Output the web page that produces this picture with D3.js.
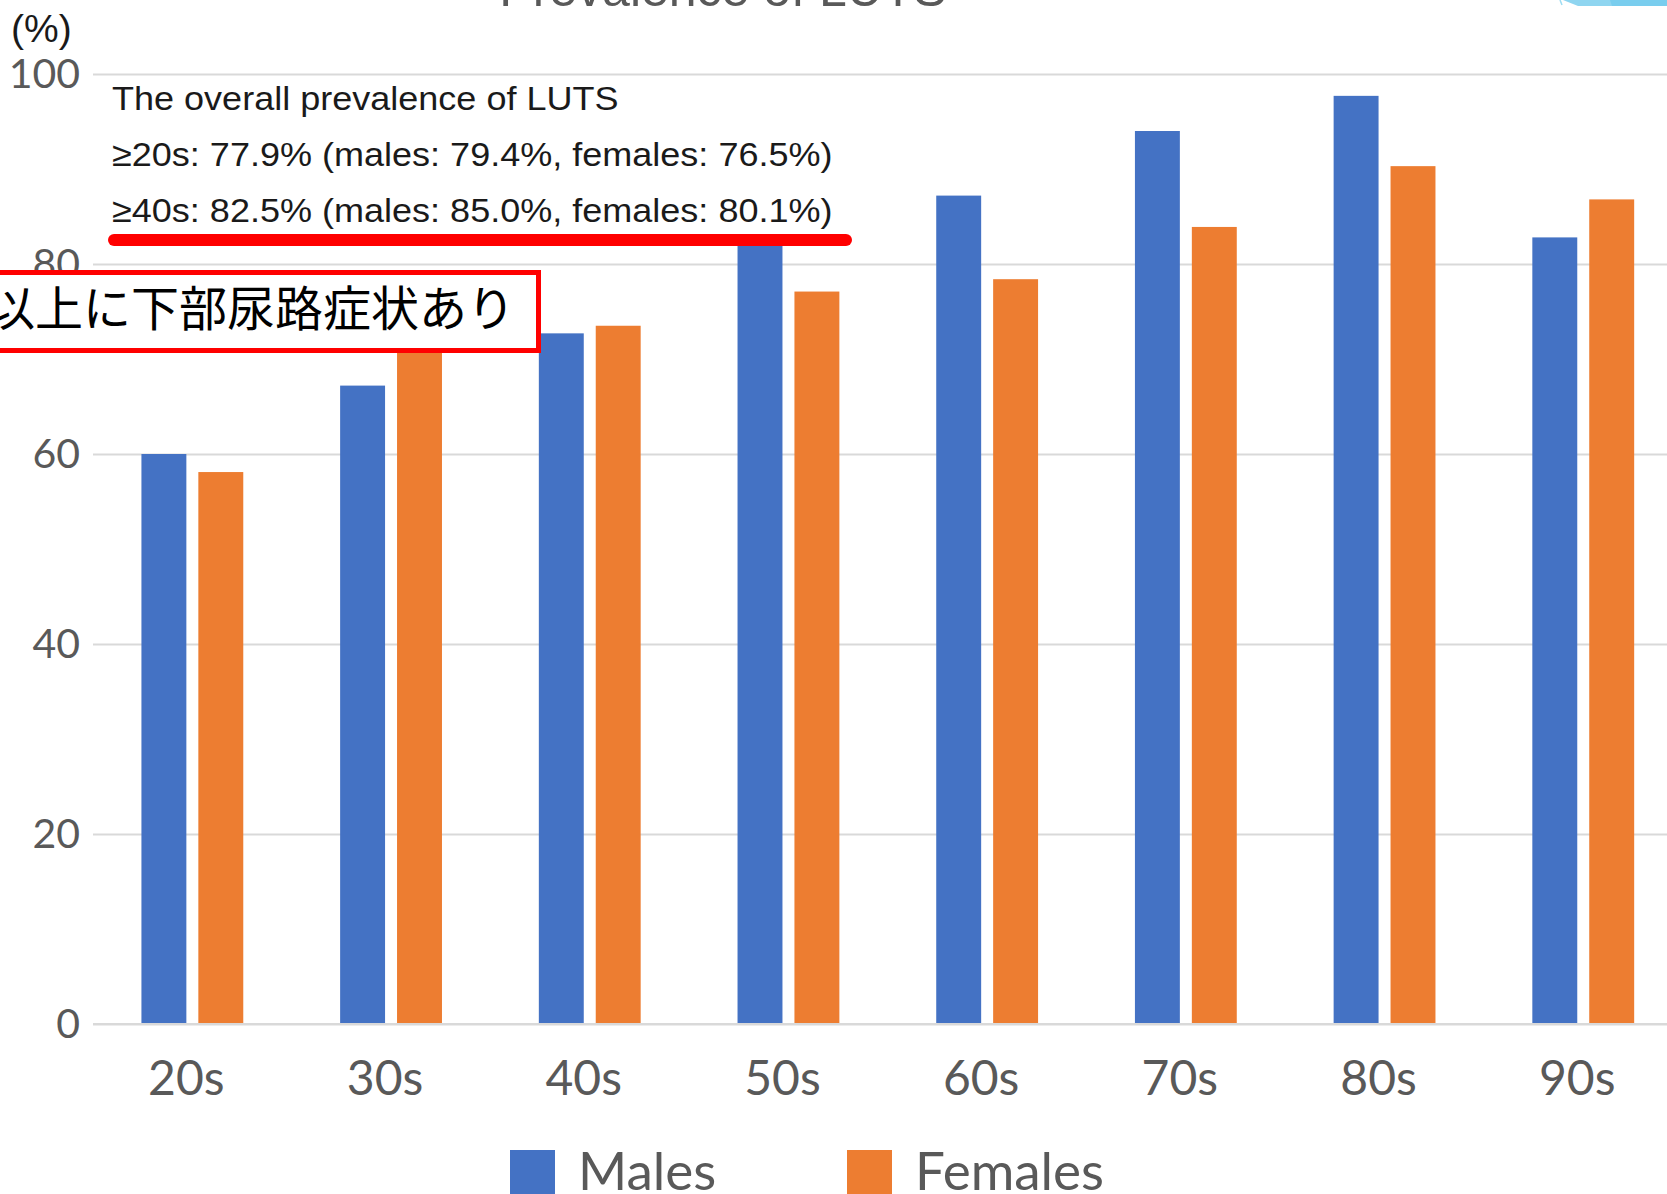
<!DOCTYPE html>
<html>
<head>
<meta charset="utf-8">
<script src="https://cdn.jsdelivr.net/npm/d3@7"></script>
<style>
  html, body { margin: 0; padding: 0; background: #fff; overflow: hidden; }
  svg { display: block; }
</style>
</head>
<body>
<svg id="chart" width="1667" height="1194"></svg>
<script>
// ---- data ----
const categories = ["20s", "30s", "40s", "50s", "60s", "70s", "80s", "90s"];
const seriesNames = ["Males", "Females"];
const males   = [60.0, 67.2, 72.7, 82.5, 87.2, 94.0, 97.7, 82.8];
const females = [58.1, 71.5, 73.5, 77.1, 78.4, 83.9, 90.3, 86.8];
const yTicks = [0, 20, 40, 60, 80, 100];
const yUnit = "(%)";
const titleText = "Prevalence of LUTS";
const noteLines = [
  "The overall prevalence of LUTS",
  "\u226520s: 77.9% (males: 79.4%, females: 76.5%)",
  "\u226540s: 82.5% (males: 85.0%, females: 80.1%)"
];
const boxText = "以上に下部尿路症状あり";

// ---- setup ----
const svg = d3.select("#chart");
const W = 1667, H = 1194;
const colors = { Males: "#4472C4", Females: "#ED7D31" };
const left = 93, step = 198.7;

const x0 = d3.scaleBand().domain(categories)
  .range([left, left + step * categories.length]).paddingInner(0).paddingOuter(0);
const x1 = d3.scaleBand().domain(seriesNames)
  .range([0, x0.bandwidth()]).paddingInner(0.2105).paddingOuter(0.851);
const y = d3.scaleLinear().domain([0, 100]).range([1024, 74]);

svg.append("rect").attr("width", W).attr("height", H).attr("fill", "#fff");

// faint cut-off title at very top
svg.append("text").attr("x", 723).attr("y", 6)
  .attr("text-anchor", "middle")
  .attr("font-family", "Liberation Sans, Arial, sans-serif")
  .attr("font-size", 50).attr("fill", "#595959")
  .text(titleText);

// decoration top-right
svg.append("polygon").attr("points", "1563,0 1667,0 1667,6 1578,6").attr("fill", "#8fd5f0");
svg.append("polygon").attr("points", "1610,0 1667,0 1667,6 1612,6").attr("fill", "#79cdee");
svg.append("line").attr("x1", 1560).attr("y1", 0).attr("x2", 1562).attr("y2", 5)
  .attr("stroke", "#9edcf2").attr("stroke-width", 1.5);

// gridlines
const yAxisG = svg.append("g").attr("transform", `translate(${left},0)`)
  .call(d3.axisLeft(y).tickValues(yTicks).tickSize(-(W - left)).tickFormat(d3.format("d")).tickPadding(13));
yAxisG.select(".domain").remove();
yAxisG.selectAll(".tick line").attr("stroke", "#d9d9d9").attr("stroke-width", 2);
yAxisG.selectAll(".tick text")
  .attr("font-family", "Lato, 'Open Sans', sans-serif")
  .attr("font-size", 41).attr("fill", "#595959").attr("dy", "0.33em");

// bars
const groups = svg.append("g").selectAll("g").data(categories).join("g")
  .attr("transform", d => `translate(${x0(d)},0)`);
groups.selectAll("rect")
  .data((d, i) => seriesNames.map(s => ({ s, v: s === "Males" ? males[i] : females[i] })))
  .join("rect")
  .attr("x", d => x1(d.s))
  .attr("width", x1.bandwidth())
  .attr("y", d => y(d.v))
  .attr("height", d => y(0) - y(d.v))
  .attr("fill", d => colors[d.s]);

// x axis
const xAxisG = svg.append("g").attr("transform", `translate(0,${y(0)})`)
  .call(d3.axisBottom(x0).tickSize(0).tickPadding(0));
xAxisG.select(".domain").attr("d", `M${left},0H${W}`).attr("stroke", "#d9d9d9").attr("stroke-width", 2);
xAxisG.selectAll(".tick text")
  .attr("font-family", "Lato, 'Open Sans', sans-serif")
  .attr("font-size", 48).attr("fill", "#595959")
  .attr("x", -6).attr("y", 71).attr("dy", 0);

// unit label
svg.append("text").attr("x", 11).attr("y", 42)
  .attr("font-family", "Liberation Sans, Arial, sans-serif")
  .attr("font-size", 39).attr("fill", "#1a1a1a").text(yUnit);

// annotation block
svg.append("rect").attr("x", 100).attr("y", 80).attr("width", 762).attr("height", 160).attr("fill", "#fff");
svg.append("g").attr("transform", "translate(112,0) scale(1.06,1)")
  .selectAll("text").data(noteLines).join("text")
  .attr("x", 0).attr("y", (d, i) => [110, 166, 222][i])
  .attr("font-family", "Liberation Sans, Arial, sans-serif")
  .attr("font-size", 34).attr("fill", "#1a1a1a")
  .text(d => d);
svg.append("line").attr("x1", 114).attr("x2", 846).attr("y1", 240).attr("y2", 240)
  .attr("stroke", "#ff0000").attr("stroke-width", 12).attr("stroke-linecap", "round");

// red box with Japanese text
svg.append("rect").attr("x", -10).attr("y", 272.5).attr("width", 548.5).attr("height", 78)
  .attr("fill", "#fff").attr("stroke", "#ff0000").attr("stroke-width", 5);
svg.append("text").attr("x", 515).attr("y", 305)
  .attr("text-anchor", "end").attr("dominant-baseline", "central")
  .attr("font-family", "'Noto Sans CJK JP', sans-serif")
  .attr("font-size", 48).attr("fill", "#000").text(boxText);

// legend
const legendPos = [{ s: "Males", rx: 510, tx: 578 }, { s: "Females", rx: 847, tx: 915 }];
const lg = svg.append("g").selectAll("g").data(legendPos).join("g");
lg.append("rect").attr("x", d => d.rx).attr("y", 1150).attr("width", 45).attr("height", 46)
  .attr("fill", d => colors[d.s]);
lg.append("text").attr("x", d => d.tx).attr("y", 1190)
  .attr("font-family", "Lato, 'Open Sans', sans-serif")
  .attr("font-size", 53).attr("fill", "#595959").text(d => d.s);
</script>
</body>
</html>
